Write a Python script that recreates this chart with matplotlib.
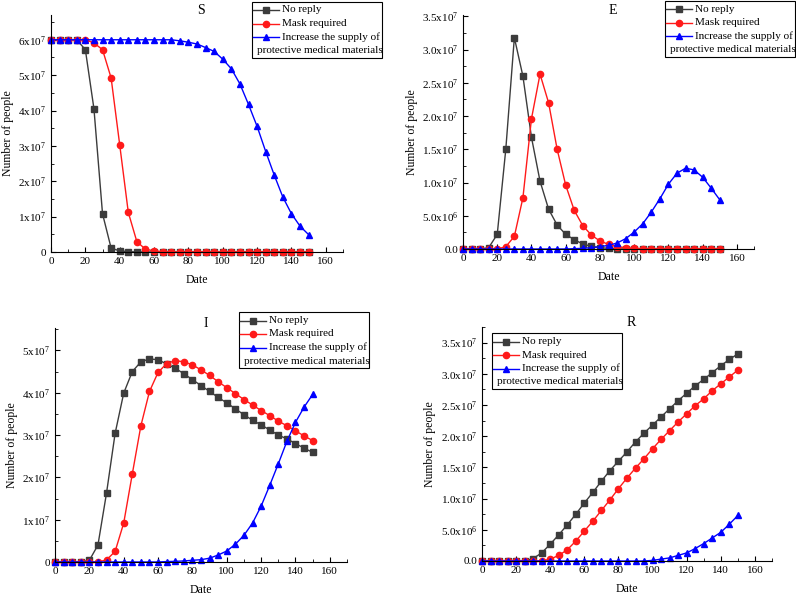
import matplotlib
matplotlib.use('Agg')
import matplotlib.pyplot as plt
import numpy as np
from matplotlib.lines import Line2D
from matplotlib.patches import Rectangle
from matplotlib.ticker import MultipleLocator, FuncFormatter

plt.rcParams['font.family'] = ['Liberation Serif', 'DejaVu Serif']
plt.rcParams['mathtext.fontset'] = 'custom'
plt.rcParams['mathtext.rm'] = 'Liberation Serif'
plt.rcParams['mathtext.it'] = 'Liberation Serif:italic'
plt.rcParams['mathtext.bf'] = 'Liberation Serif:bold'

days = [0, 5, 10, 15, 20, 25, 30, 35, 40, 45, 50, 55, 60, 65, 70, 75, 80, 85, 90, 95,
        100, 105, 110, 115, 120, 125, 130, 135, 140, 145, 150]

series_names = ['No reply', 'Mask required', 'Increase the supply of']

# values in units of 1e7 people
S_no = [6.0, 6.0, 6.0, 6.0, 5.72, 4.05, 1.08, 0.11, 0.03, 0.01] + [0] * 21
S_mask = [6.0, 6.0, 6.0, 6.0, 6.0, 5.91, 5.72, 4.92, 3.03, 1.12, 0.29, 0.08, 0.03, 0.01] + [0] * 17
S_supply = [6.0] * 15 + [5.97, 5.93, 5.88, 5.78, 5.67, 5.45, 5.18, 4.75, 4.17, 3.55, 2.84,
                         2.17, 1.55, 1.08, 0.73, 0.49]

E_no = [0, 0, 0, 0.02, 0.22, 1.5, 3.18, 2.6, 1.68, 1.02, 0.6, 0.36, 0.22, 0.14, 0.075,
        0.04, 0.02, 0.01] + [0] * 13
E_mask = [0, 0, 0, 0, 0, 0.035, 0.19, 0.77, 1.96, 2.63, 2.2, 1.5, 0.96, 0.58, 0.35, 0.21,
          0.12, 0.07, 0.035, 0.02, 0.01] + [0.005] * 10
E_supply = [0] * 13 + [0.005, 0.01, 0.02, 0.035, 0.055, 0.09, 0.155, 0.255, 0.38, 0.555,
                       0.755, 0.975, 1.14, 1.215, 1.19, 1.08, 0.915, 0.74]

I_no = [0, 0, 0, 0, 0.04, 0.4, 1.63, 3.04, 3.99, 4.5, 4.73, 4.8, 4.78, 4.68, 4.58, 4.45,
        4.31, 4.17, 4.03, 3.89, 3.76, 3.62, 3.48, 3.35, 3.24, 3.12, 3.0, 2.91, 2.8, 2.69, 2.59]
I_mask = [0, 0, 0, 0, 0, 0, 0.05, 0.25, 0.92, 2.08, 3.22, 4.03, 4.48, 4.69, 4.76, 4.73,
          4.66, 4.54, 4.41, 4.26, 4.12, 3.98, 3.84, 3.71, 3.58, 3.46, 3.33, 3.22, 3.1, 2.98, 2.87]
I_supply = [0] * 13 + [0.01, 0.015, 0.025, 0.04, 0.055, 0.09, 0.165, 0.26, 0.42, 0.63,
                       0.92, 1.32, 1.81, 2.32, 2.85, 3.3, 3.66, 3.96]

R_no = [0] * 6 + [0.04, 0.13, 0.27, 0.42, 0.58, 0.75, 0.93, 1.1, 1.28, 1.45, 1.6, 1.75,
                  1.91, 2.05, 2.18, 2.31, 2.44, 2.57, 2.69, 2.81, 2.91, 3.02, 3.13, 3.23, 3.32]
R_mask = [0] * 8 + [0.03, 0.09, 0.18, 0.32, 0.48, 0.64, 0.81, 0.98, 1.16, 1.33, 1.49,
                    1.64, 1.8, 1.95, 2.09, 2.23, 2.36, 2.49, 2.6, 2.73, 2.84, 2.95, 3.06]
R_supply = [0] * 20 + [0.01, 0.03, 0.05, 0.09, 0.13, 0.2, 0.28, 0.37, 0.46, 0.59, 0.73]

W, H = 796, 595
colors = ['#3c3c3c', '#ff1a1a', '#0000ff']
markers = ['s', 'o', '^']
msizes = [4.5, 4.5, 5]


def px(x, y):
    return x / W, 1 - y / H


def fmt_int(v, pos):
    if v < 0:
        return ''
    if abs(v) < 1:
        return '0'
    return '%dx10$^{7}$' % round(v / 1e7)


def fmt_dec(v, pos):
    if v < 0:
        return ''
    if abs(v) < 1:
        return '0.0'
    e = int(np.floor(np.log10(v) + 1e-9))
    return '%.1fx10$^{%d}$' % (v / 10 ** e, e)


fig = plt.figure(figsize=(7.96, 5.95), dpi=100)


def panel(rect, title, data, ytop, ymajor, fmt):
    l, t, r, b = rect
    ax = fig.add_axes([l / W, 1 - b / H, (r - l) / W, (b - t) / H])
    for vals, c, m, ms in zip(data, colors, markers, msizes):
        ax.plot(days, np.array(vals) * 1e7, color=c, marker=m, markersize=ms, lw=1.0,
                clip_on=False)
    ax.set_xlim(0, 170)
    ax.set_ylim(0, ytop)
    ax.spines['top'].set_visible(False)
    ax.spines['right'].set_visible(False)
    ax.xaxis.set_major_locator(MultipleLocator(20))
    ax.xaxis.set_minor_locator(MultipleLocator(10))
    ax.yaxis.set_major_locator(MultipleLocator(ymajor))
    ax.yaxis.set_minor_locator(MultipleLocator(ymajor / 2))
    ax.yaxis.set_major_formatter(FuncFormatter(fmt))
    ax.tick_params(which='both', direction='in', labelsize=8)
    ax.tick_params(which='major', length=3.5)
    ax.tick_params(which='minor', length=2)
    ax.set_xlabel('Date', fontsize=8.5)
    ax.set_ylabel('Number of people', fontsize=8.5)
    ax.xaxis.set_label_coords(0.5, -0.093)
    ax.text(0.515, 1.018, title, transform=ax.transAxes, ha='center', va='center', fontsize=10)
    return ax


def legend_box(x0, y0):
    w, h = 130, 56
    fx, fy = px(x0, y0 + h)
    fig.add_artist(Rectangle((fx, fy), w / W, h / H, transform=fig.transFigure,
                             facecolor='white', edgecolor='black', lw=0.8))
    rows = [8.5, 22, 35.5, 49]
    for i in range(3):
        xa, ya = px(x0 + 1, y0 + rows[i])
        xb, _ = px(x0 + 27, y0 + rows[i])
        xm, _ = px(x0 + 14, y0 + rows[i])
        fig.add_artist(Line2D([xa, xb], [ya, ya], color=colors[i], lw=1.0,
                              transform=fig.transFigure))
        fig.add_artist(Line2D([xm], [ya], color=colors[i], marker=markers[i],
                              markersize=msizes[i], transform=fig.transFigure))
        tx, ty = px(x0 + 30, y0 + rows[i])
        fig.text(tx, ty, series_names[i], fontsize=8, va='center')
    tx, ty = px(x0 + 5, y0 + rows[3])
    fig.text(tx, ty, 'protective medical materials', fontsize=8, va='center')


ax1 = panel((51, 15, 343, 252), 'S', [S_no, S_mask, S_supply], 6.7e7, 1e7, fmt_int)
ax1.yaxis.set_label_coords(-0.128, 0.5)
ax2 = panel((463, 15, 754, 249), 'E', [E_no, E_mask, E_supply], 3.52e7, 0.5e7, fmt_dec)
ax2.yaxis.set_label_coords(-0.155, 0.5)
ax3 = panel((55, 328, 347, 562), 'I', [I_no, I_mask, I_supply], 5.53e7, 1e7, fmt_int)
ax3.yaxis.set_label_coords(-0.128, 0.5)
ax4 = panel((482, 327, 772, 561), 'R', [R_no, R_mask, R_supply], 3.75e7, 0.5e7, fmt_dec)
ax4.yaxis.set_label_coords(-0.158, 0.5)

legend_box(252, 1.5)
legend_box(665, 0.5)
legend_box(239, 312)
legend_box(492, 333)

fig.savefig('out.png', dpi=100)
